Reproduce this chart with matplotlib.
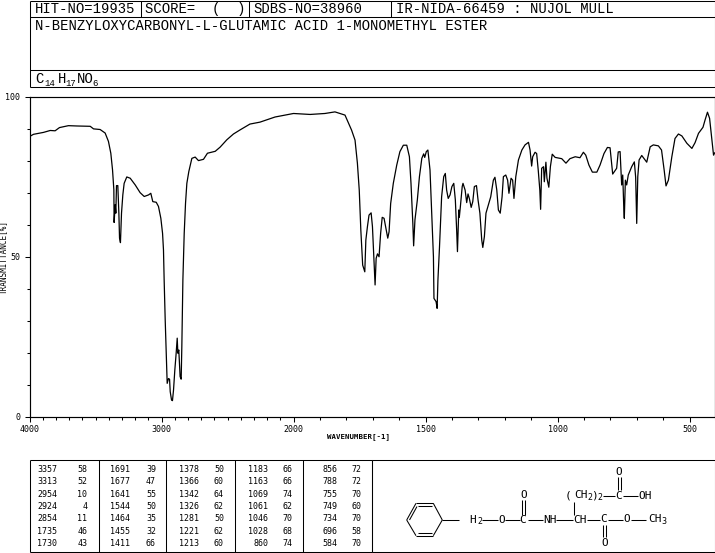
import matplotlib
matplotlib.use('Agg')
import matplotlib.pyplot as plt
import numpy as np

# wavenumber (1/cm) and transmittance (%)
wavenumber = [4000, 3970, 3894, 3843, 3806, 3773, 3705, 3641, 3540, 3515, 3465, 3427, 3402, 3384, 3371, 3361,
              3359, 3351, 3346, 3341, 3331, 3323, 3318, 3311, 3303, 3293, 3283, 3263, 3237, 3199, 3162, 3131,
              3098, 3081, 3066, 3040, 3023, 3005, 2992, 2985, 2980, 2972, 2962, 2957, 2947, 2939, 2934, 2924,
              2917, 2909, 2899, 2889, 2881, 2876, 2869, 2859, 2851, 2846, 2838, 2828, 2818, 2808, 2793, 2770,
              2745, 2720, 2682, 2652, 2593, 2556, 2505, 2455, 2404, 2330, 2254, 2140, 2000, 1937, 1881, 1843,
              1805, 1780, 1767, 1758, 1751, 1745, 1738, 1730, 1726, 1720, 1714, 1706, 1701, 1695, 1691, 1687,
              1682, 1676, 1670, 1664, 1657, 1650, 1643, 1638, 1632, 1622, 1609, 1597, 1584, 1571, 1561, 1555,
              1548, 1545, 1540, 1531, 1523, 1514, 1507, 1503, 1497, 1491, 1483, 1475, 1470, 1468, 1460, 1456,
              1453, 1447, 1439, 1431, 1425, 1420, 1414, 1407, 1400, 1393, 1387, 1382, 1379, 1374, 1372, 1368,
              1361, 1358, 1350, 1344, 1339, 1334, 1327, 1321, 1315, 1307, 1301, 1294, 1287, 1283, 1277, 1271,
              1262, 1253, 1243, 1237, 1230, 1224, 1217, 1210, 1205, 1196, 1189, 1184, 1176, 1170, 1165, 1158,
              1148, 1135, 1123, 1110, 1104, 1098, 1094, 1085, 1079, 1073, 1067, 1064, 1060, 1053, 1050, 1044,
              1040, 1033, 1027, 1020, 1009, 984, 968, 953, 933, 915, 902, 893, 881, 868, 851, 839,
              824, 811, 801, 791, 776, 770, 763, 757, 753, 749, 747, 743, 738, 732, 719, 709,
              704, 700, 696, 691, 681, 662, 649, 637, 618, 606, 596, 589, 580, 567, 555, 542,
              529, 510, 491, 479, 466, 449, 441, 432, 424, 415, 409, 405]
transmittance = [87.5, 88.2, 88.8, 89.4, 89.3, 90.3, 90.9, 90.8, 90.7, 89.9, 89.7, 88.6, 86, 82.3, 77.1, 70.9,
                 60.7, 66.2, 63.6, 72.2, 72.2, 63.6, 55.8, 54.4, 63.6, 69.3, 72.9, 74.9, 74.5, 72.4, 70, 68.8,
                 69.3, 69.8, 67.2, 67, 65.7, 62, 57.3, 52.1, 42.8, 30.3, 17.8, 10.5, 12, 11.8, 7.9, 5.3,
                 5.1, 8.4, 14.7, 19.9, 24.6, 19.9, 20.9, 12.6, 11.8, 22, 42.8, 57.3, 66.7, 72.9, 76.6, 80.7,
                 81.1, 80, 80.4, 82.3, 82.9, 84.2, 86.5, 88.3, 89.6, 91.4, 92, 93.6, 94.7, 94.4, 94.7, 95.2,
                 94.2, 89.5, 86.4, 79.2, 70.8, 58.3, 47.4, 45.3, 55.2, 59.4, 63, 63.7, 59.4, 48, 41.2, 49.5,
                 50.9, 50, 57.3, 62.3, 62, 58.9, 55.8, 57.8, 66.6, 72.9, 78.6, 82.8, 84.8, 84.8, 81.2, 72.9,
                 60.4, 53.4, 61.5, 67.7, 75, 80.7, 82.1, 81, 82.8, 83.3, 77.1, 60.4, 50, 37, 36, 33.9,
                 42.7, 53.1, 68.7, 75, 76, 70.8, 68.2, 69.3, 71.9, 72.9, 67.7, 58.3, 51.6, 64.6, 62.3, 65.6,
                 71.9, 72.9, 70.8, 66.9, 69.6, 68.2, 65.4, 67.2, 71.9, 72.2, 67.7, 63.6, 55.2, 52.9, 56.3, 63.6,
                 66.1, 68.7, 73.9, 74.8, 70.8, 64.6, 63.6, 68.7, 75, 75.5, 73.9, 69.8, 74.5, 73.9, 68.2, 75,
                 80.2, 83.3, 84.9, 85.7, 83.3, 78.3, 81.2, 82.6, 82.2, 77, 70.8, 64.8, 77.6, 78.1, 73.4, 79.5,
                 74.5, 71.7, 78.1, 82, 81, 80.6, 79.2, 80.6, 81.2, 80.9, 82.6, 81.7, 78.6, 76.4, 76.4, 78.6,
                 82.2, 84.1, 84, 75.8, 77.6, 82.7, 82.8, 72.4, 75.5, 65.4, 62, 73.9, 72.4, 75.5, 78.1, 79.6,
                 74.8, 60.4, 75, 80.2, 81.6, 79.5, 84.3, 84.9, 84.6, 83.3, 77, 72.1, 73.9, 81.2, 86.9, 88.3,
                 87.7, 85.4, 83.8, 85.6, 88.5, 90.4, 92.7, 95.1, 93.2, 86.4, 81.7, 82.4]

# peak table, one list per column
peak_wn = [[3357, 3313, 2954, 2924, 2854, 1735, 1730],
           [1691, 1677, 1641, 1544, 1464, 1455, 1411],
           [1378, 1366, 1342, 1326, 1281, 1221, 1213],
           [1183, 1163, 1069, 1061, 1046, 1028, 860],
           [856, 788, 755, 749, 734, 696, 584]]
peak_t = [[58, 52, 10, 4, 11, 46, 43],
          [39, 47, 55, 50, 35, 32, 66],
          [50, 60, 64, 62, 50, 62, 60],
          [66, 66, 74, 62, 70, 68, 74],
          [72, 72, 70, 60, 70, 58, 70]]

W, H = 715, 553
MONO = 'DejaVu Sans Mono'
HEAD = 'Liberation Mono'


# the wavenumber axis is twice as stretched below 2000
def fwd(w):
    w = np.asarray(w, dtype=float)
    return np.where(w >= 2000, (w - 2000) * 0.132, (w - 2000) * 0.264)


def inv(p):
    p = np.asarray(p, dtype=float)
    return np.where(p >= 0, 2000 + p / 0.132, 2000 + p / 0.264)


fig = plt.figure(figsize=(W / 100, H / 100), dpi=100)

# overlay in pixel coordinates for the boxes and the structure
pg = fig.add_axes([0, 0, 1, 1])
pg.set_xlim(0, W)
pg.set_ylim(H, 0)
pg.axis('off')

ax = fig.add_axes([29.5 / W, 1 - 417 / H, (714.6 - 29.5) / W, 320.5 / H])
ax.set_xscale('function', functions=(fwd, inv))
ax.plot(wavenumber, transmittance, color='black', lw=0.9)
ax.set_xticks([4000, 3000, 2000, 1500, 1000, 500])
ax.set_xticklabels(['4000', '3000', '2000', '1500', '1000', '500'], family=MONO, fontsize=6)
ax.set_xticks(list(np.arange(4000, 400, -100)) + [405], minor=True)
ax.set_yticks([0, 50, 100])
ax.set_yticklabels(['0', '50', '100'], family=MONO, fontsize=6)
ax.set_yticks(np.arange(0, 101, 10), minor=True)
ax.set_xlim(4000, 405)
ax.set_ylim(0, 100)
ax.tick_params(which='major', length=3.4, width=0.75, pad=3.4)
ax.tick_params(axis='x', which='major', pad=2)
ax.tick_params(which='minor', length=2.2, width=0.75)
for s in ax.spines.values():
    s.set_linewidth(0.85)
ax.set_xlabel('WAVENUMBER[-1]', family=MONO, fontsize=5.3, weight='bold')
ax.xaxis.set_label_coords(0.48, -0.0624, transform=ax.transAxes)
ax.xaxis.label.set_verticalalignment('center')
ax.set_ylabel('TRANSMITTANCE[%]', family=MONO, fontsize=5.5)
ax.yaxis.set_label_coords(-0.0375, 0.5, transform=ax.transAxes)
ax.yaxis.label.set_verticalalignment('center')


def line(x0, y0, x1, y1, lw=0.75):
    pg.plot([x0, x1], [y0, y1], color='black', lw=lw, solid_capstyle='butt')


def box(x0, y0, x1, y1):
    line(x0, y0, x1, y0)
    line(x0, y1, x1, y1)
    line(x0, y0, x0, y1)
    line(x1, y0, x1, y1)


def head(x, y, s):
    pg.text(x, y, s, family=HEAD, fontsize=10, ha='left', va='center')


def sub(x, y, s):
    pg.text(x, y, s, family=HEAD, fontsize=6.5, ha='left', va='center')


def atom(x, y, s, fs=8):
    pg.text(x, y, s, family=MONO, fontsize=fs, ha='center', va='center')


# header
box(29.5, 0.5, 714.5, 87.3)
line(29.5, 16.7, 714.5, 16.7)
line(29.5, 69.5, 714.5, 69.5)
for x in [140.7, 248.7, 390.7]:
    line(x, 0.5, x, 16.7)
head(35, 9, 'HIT-NO=19935')
head(145, 9, 'SCORE=  (  )')
head(253, 9, 'SDBS-NO=38960')
head(396, 9, 'IR-NIDA-66459 : NUJOL MULL')
head(35, 26.5, 'N-BENZYLOXYCARBONYL-L-GLUTAMIC ACID 1-MONOMETHYL ESTER')
head(35, 79, 'C')
sub(44.5, 83.5, '14')
head(57.5, 79, 'H')
sub(65.5, 83.5, '17')
head(76.5, 79, 'NO')
sub(92.5, 83.5, '6')

# peak table
box(29.5, 460, 372.3, 552)
for x in [98.7, 166.3, 235.3, 303.3]:
    line(x, 460, x, 552)
row_y = [469.7, 481.7, 494.3, 506.7, 518.7, 531, 544]
wn_right = [57.3, 130, 199.3, 268, 337.3]
t_right = [87.3, 156, 224, 292.7, 361.3]
for c in range(5):
    for r in range(7):
        pg.text(wn_right[c], row_y[r], str(peak_wn[c][r]), family=MONO, fontsize=6, ha='right', va='center')
        pg.text(t_right[c], row_y[r], str(peak_t[c][r]), family=MONO, fontsize=6, ha='right', va='center')

# structure box
box(372.3, 460, 714.5, 552)
hexa = [(406.7, 520), (416, 503.3), (433.3, 503.3), (442.3, 520), (433.3, 535.7), (416, 535.7), (406.7, 520)]
for a, b in zip(hexa[:-1], hexa[1:]):
    line(a[0], a[1], b[0], b[1])
line(417.5, 506, 432, 506)
line(417.5, 533, 432, 533)
line(409.5, 520, 417, 506.5)
line(442.3, 520, 459.3, 520)
atom(473, 520, 'H')
pg.text(479.5, 522, '2', family=MONO, fontsize=6, ha='center', va='center')
line(482, 520, 498, 520)
atom(501.7, 520, 'O')
line(505, 520, 520, 520)
atom(523, 520, 'C')
line(522, 515, 522, 500)
line(524.5, 515, 524.5, 500)
atom(523.3, 495, 'O')
line(528, 520, 543, 520)
atom(550, 520, 'NH')
line(556, 520, 573, 520)
atom(580, 520, 'CH')
line(574.3, 515, 574.3, 502)
atom(568, 495.5, '(')
atom(581, 495.5, 'CH')
pg.text(589.5, 498, '2', family=MONO, fontsize=6, ha='center', va='center')
atom(594.5, 495.5, ')')
pg.text(600, 498, '2', family=MONO, fontsize=6, ha='center', va='center')
line(603, 495.7, 615, 495.7)
atom(619, 495.7, 'C')
line(618, 490, 618, 477)
line(620.5, 490, 620.5, 477)
atom(619, 471.7, 'O')
line(623, 495.7, 638, 495.7)
atom(645, 495.7, 'OH')
line(587, 520, 600, 520)
atom(604, 519, 'C')
line(608, 520, 623, 520)
atom(627, 519, 'O')
line(631, 520, 646, 520)
atom(655, 519, 'CH')
pg.text(663.5, 521, '3', family=MONO, fontsize=6, ha='center', va='center')
line(603, 525, 603, 537)
line(605.5, 525, 605.5, 537)
atom(604.3, 543, 'O')

fig.savefig('out.png', dpi=100)
